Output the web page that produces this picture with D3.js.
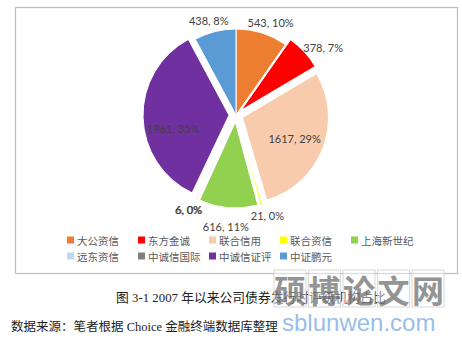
<!DOCTYPE html>
<html>
<head>
<meta charset="utf-8">
<script src="https://cdn.jsdelivr.net/npm/d3@7"></script>
<style>
  body { margin: 0; background: #fff; }
  svg { display: block; }
</style>
</head>
<body>
<div id="chart"></div>
<script>
// data
const categories = ['大公资信', '东方金诚', '联合信用', '联合资信', '上海新世纪', '远东资信', '中诚信国际', '中诚信证评', '中证鹏元'];
const counts = [543, 378, 1617, 21, 616, 6, 6, 1961, 438];
const colors = ['#ED7D31', '#FF0000', '#F8CBAD', '#FFFF00', '#92D050', '#BDD7EE', '#7F7F7F', '#7030A0', '#5B9BD5'];
const caption = '图 3-1 2007 年以来公司债券发行时评级机构占比';
const source = '数据来源：笔者根据 Choice 金融终端数据库整理';
const watermarkChars = ['硕', '博', '论', '文', '网'];

// layout
const width = 462, height = 341;
const cx = 236, cy = 115, radius = 86;
const explodedOff = 7;
const notExploded = ['大公资信', '中证鹏元'];
const labelNudge = { '中诚信证评': 12, '上海新世纪': 7, '东方金诚': 4 };

const svg = d3.select('#chart').append('svg')
  .attr('width', width)
  .attr('height', height);

// chart frame
svg.append('rect')
  .attr('x', 15.5).attr('y', 7.5)
  .attr('width', 442).attr('height', 266)
  .attr('fill', '#fff')
  .attr('stroke', '#bfbfbf')
  .attr('stroke-width', 1.3);

const total = d3.sum(counts);
const data = categories.map((c, i) => ({ name: c, value: counts[i], color: colors[i] }));

const pie = d3.pie().sort(null).value(d => d.value);
const arcs = pie(data);
const arc = d3.arc().innerRadius(0).outerRadius(radius);

const offsetOf = d => notExploded.includes(d.data.name) ? 0 : explodedOff;
const midAngle = d => (d.startAngle + d.endAngle) / 2;

const g = svg.append('g').attr('transform', `translate(${cx},${cy})`);

g.selectAll('path')
  .data(arcs)
  .enter()
  .append('path')
  .attr('d', arc)
  .attr('fill', d => d.data.color)
  .attr('stroke', '#fff')
  .attr('stroke-width', 1)
  .attr('transform', d => {
    const a = midAngle(d), o = offsetOf(d);
    return `translate(${o * Math.sin(a)},${-o * Math.cos(a)})`;
  });

// data labels
const labels = g.selectAll('text.lbl')
  .data(arcs)
  .enter()
  .append('text')
  .attr('class', 'lbl')
  .attr('font-family', 'Lato, "Liberation Sans", sans-serif')
  .attr('font-size', 11)
  .attr('fill', '#404040')
  .attr('text-anchor', 'middle')
  .attr('dominant-baseline', 'central')
  .text(d => `${d.data.value}, ${Math.round(d.data.value / total * 100)}%`);

labels.each(function (d) {
  const a = midAngle(d), o = offsetOf(d);
  const s = Math.sin(a), c = -Math.cos(a);
  let x, y;
  if (d.data.value / total > 0.2) {
    const r = 56 + o;
    x = r * s; y = r * c;
  } else {
    const w = this.getComputedTextLength(), h = 11;
    const r = radius + o + 6;
    x = r * s + s * w / 2;
    y = r * c + c * h / 2;
  }
  y += labelNudge[d.data.name] || 0;
  d3.select(this).attr('x', x).attr('y', y);
});

// legend, Excel-like equal columns
const cols = d3.scaleBand().domain(d3.range(5)).range([67, 422]);
const legend = svg.selectAll('g.leg')
  .data(data)
  .enter()
  .append('g')
  .attr('class', 'leg')
  .attr('transform', (d, i) => `translate(${cols(i % 5)},${i < 5 ? 240 : 256})`);

legend.append('rect')
  .attr('x', 0).attr('y', -3.5)
  .attr('width', 7).attr('height', 7)
  .attr('fill', d => d.color);

legend.append('text')
  .attr('x', 10)
  .attr('y', 0)
  .attr('dominant-baseline', 'central')
  .attr('font-family', '"Noto Sans CJK SC", sans-serif')
  .attr('font-size', 10.5)
  .attr('fill', '#595959')
  .text(d => d.name);

// caption and source
svg.append('text')
  .attr('x', 251).attr('y', 298)
  .attr('text-anchor', 'middle')
  .attr('dominant-baseline', 'central')
  .attr('font-family', '"Liberation Serif", "Noto Sans CJK SC", serif')
  .attr('font-size', 12.8)
  .attr('fill', '#222')
  .text(caption);

svg.append('text')
  .attr('x', 11).attr('y', 327)
  .attr('dominant-baseline', 'central')
  .attr('font-family', '"Liberation Serif", "Noto Sans CJK SC", serif')
  .attr('font-size', 12.5)
  .attr('fill', '#222')
  .text(source);

// watermark
const wm = svg.append('g').attr('opacity', 0.8);
wm.selectAll('rect')
  .data(watermarkChars)
  .enter()
  .append('rect')
  .attr('x', (d, i) => 274 + i * 34.5)
  .attr('y', 270)
  .attr('width', 32).attr('height', 37)
  .attr('fill', 'rgba(255,255,255,0.55)')
  .attr('stroke', '#d0d0d0')
  .attr('stroke-width', 1);

wm.selectAll('text.wm')
  .data(watermarkChars)
  .enter()
  .append('text')
  .attr('class', 'wm')
  .attr('x', (d, i) => 290 + i * 34.5)
  .attr('y', 289)
  .attr('text-anchor', 'middle')
  .attr('dominant-baseline', 'central')
  .attr('font-family', '"Noto Sans CJK SC", sans-serif')
  .attr('font-weight', 'bold')
  .attr('font-size', 32)
  .attr('fill', '#7a7a7a')
  .text(d => d);

wm.append('text')
  .attr('x', 282).attr('y', 331)
  .attr('font-family', '"Liberation Sans", Arial, sans-serif')
  .attr('font-size', 24)
  .attr('fill', '#7fb0e4')
  .text('sblunwen.com');
</script>
</body>
</html>
